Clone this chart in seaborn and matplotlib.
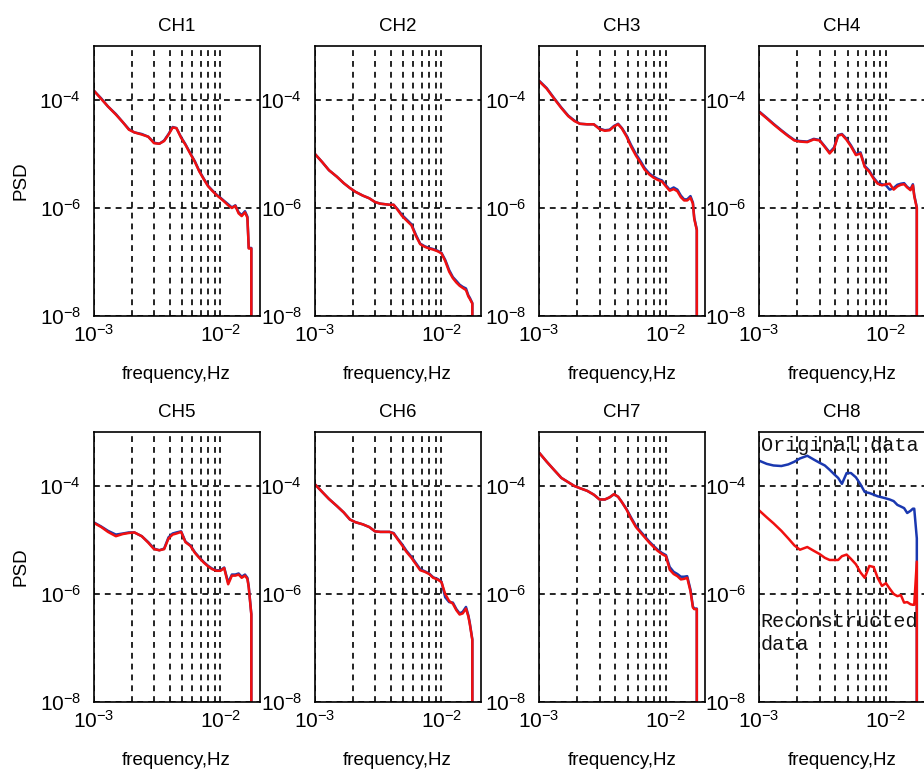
import numpy as np
import pandas as pd
import matplotlib
matplotlib.use("Agg")
import matplotlib.pyplot as plt
import seaborn as sns
from matplotlib.ticker import FixedLocator, NullLocator, NullFormatter, LogFormatterSciNotation

# ---------------- data ----------------
# frequency grid, Hz (last entry repeats: the spectrum drops to zero there)
freq = [1.00e-3, 1.15e-3, 1.3e-3, 1.5e-3, 1.7e-3, 1.9e-3, 2.1e-3, 2.4e-3, 2.7e-3,
        3.0e-3, 3.3e-3, 3.6e-3, 3.9e-3, 4.2e-3, 4.5e-3, 4.9e-3, 5.3e-3, 5.8e-3,
        6.3e-3, 6.8e-3, 7.4e-3, 8.0e-3, 8.6e-3, 9.3e-3, 1.0e-2, 1.07e-2, 1.15e-2,
        1.23e-2, 1.31e-2, 1.39e-2, 1.47e-2, 1.56e-2, 1.63e-2, 1.67e-2, 1.75e-2, 1.75e-2]

# log10(PSD) of reconstructed (red) and original (blue) data, per channel
ch1_red = [-3.82, -3.98, -4.12, -4.27, -4.41, -4.55, -4.60, -4.64, -4.68, -4.80, -4.81, -4.76,
           -4.64, -4.51, -4.52, -4.70, -4.83, -5.00, -5.15, -5.32, -5.47, -5.60, -5.68, -5.76,
           -5.82, -5.88, -5.95, -6.00, -5.96, -6.10, -6.15, -6.08, -6.18, -6.75, -6.75, -10]
ch1_blue = [-3.82, -3.97, -4.12, -4.26, -4.41, -4.54, -4.60, -4.63, -4.68, -4.79, -4.81, -4.75,
            -4.63, -4.50, -4.52, -4.69, -4.82, -4.99, -5.14, -5.31, -5.46, -5.59, -5.67, -5.75,
            -5.81, -5.87, -5.93, -5.99, -5.95, -6.08, -6.13, -6.06, -6.16, -6.74, -6.74, -10]

ch2_red = [-4.99, -5.15, -5.30, -5.42, -5.54, -5.63, -5.70, -5.77, -5.82, -5.89, -5.92, -5.93,
           -5.94, -5.94, -6.03, -6.15, -6.23, -6.32, -6.52, -6.67, -6.72, -6.75, -6.77, -6.80,
           -6.84, -6.98, -7.18, -7.30, -7.38, -7.44, -7.48, -7.52, -7.64, -7.68, -7.77, -10]
ch2_blue = [-4.99, -5.15, -5.30, -5.42, -5.54, -5.63, -5.70, -5.77, -5.82, -5.89, -5.92, -5.93,
            -5.94, -5.94, -6.02, -6.13, -6.21, -6.30, -6.50, -6.66, -6.71, -6.74, -6.76, -6.79,
            -6.83, -6.96, -7.15, -7.28, -7.35, -7.42, -7.46, -7.49, -7.62, -7.66, -7.76, -10]

ch3_red = [-3.65, -3.79, -3.96, -4.15, -4.30, -4.39, -4.44, -4.45, -4.45, -4.54, -4.57, -4.56,
           -4.49, -4.45, -4.53, -4.68, -4.86, -5.03, -5.16, -5.29, -5.38, -5.44, -5.48, -5.51,
           -5.60, -5.68, -5.65, -5.69, -5.80, -5.86, -5.86, -5.81, -5.92, -6.20, -6.41, -10]
ch3_blue = [-3.64, -3.78, -3.95, -4.14, -4.29, -4.38, -4.44, -4.45, -4.45, -4.53, -4.56, -4.55,
            -4.48, -4.44, -4.52, -4.66, -4.83, -5.00, -5.13, -5.26, -5.36, -5.42, -5.46, -5.49,
            -5.58, -5.66, -5.62, -5.66, -5.77, -5.84, -5.84, -5.78, -5.90, -6.18, -6.40, -10]

ch4_red = [-4.22, -4.34, -4.45, -4.57, -4.67, -4.75, -4.77, -4.78, -4.73, -4.75, -4.87, -4.99,
           -4.90, -4.66, -4.64, -4.74, -4.86, -5.02, -4.99, -5.24, -5.33, -5.46, -5.55, -5.58,
           -5.56, -5.55, -5.66, -5.60, -5.57, -5.56, -5.62, -5.67, -5.58, -5.78, -6.00, -10]
ch4_blue = [-4.21, -4.33, -4.44, -4.56, -4.66, -4.74, -4.76, -4.77, -4.72, -4.74, -4.86, -4.97,
            -4.88, -4.65, -4.63, -4.72, -4.84, -5.00, -4.97, -5.22, -5.31, -5.44, -5.53, -5.56,
            -5.58, -5.66, -5.63, -5.57, -5.55, -5.54, -5.61, -5.65, -5.56, -5.76, -5.99, -10]

ch5_red = [-4.68, -4.76, -4.85, -4.93, -4.89, -4.87, -4.86, -4.93, -5.05, -5.17, -5.19, -5.17,
           -4.97, -4.90, -4.88, -4.85, -5.04, -5.11, -5.24, -5.33, -5.42, -5.49, -5.54, -5.57,
           -5.57, -5.52, -5.82, -5.66, -5.66, -5.64, -5.70, -5.66, -5.72, -5.88, -6.38, -10]
ch5_blue = [-4.67, -4.75, -4.83, -4.90, -4.88, -4.86, -4.86, -4.93, -5.04, -5.16, -5.19, -5.16,
            -4.95, -4.88, -4.86, -4.84, -5.03, -5.10, -5.23, -5.32, -5.41, -5.48, -5.53, -5.56,
            -5.56, -5.51, -5.79, -5.64, -5.64, -5.62, -5.68, -5.64, -5.70, -5.86, -6.37, -10]

ch6_red = [-3.96, -4.11, -4.24, -4.37, -4.49, -4.62, -4.67, -4.71, -4.76, -4.84, -4.85, -4.85,
           -4.85, -4.88, -4.98, -5.10, -5.22, -5.33, -5.45, -5.56, -5.59, -5.63, -5.70, -5.73,
           -5.78, -6.00, -6.13, -6.18, -6.30, -6.38, -6.36, -6.27, -6.42, -6.55, -6.85, -10]
ch6_blue = [-3.96, -4.11, -4.24, -4.37, -4.49, -4.62, -4.67, -4.71, -4.76, -4.84, -4.85, -4.85,
            -4.85, -4.87, -4.97, -5.08, -5.20, -5.31, -5.43, -5.54, -5.58, -5.62, -5.69, -5.72,
            -5.77, -6.06, -6.15, -6.16, -6.28, -6.36, -6.33, -6.24, -6.40, -6.53, -6.84, -10]

ch7_red = [-3.38, -3.55, -3.69, -3.85, -3.93, -4.00, -4.04, -4.09, -4.16, -4.25, -4.25, -4.21,
           -4.15, -4.20, -4.30, -4.44, -4.60, -4.76, -4.86, -4.95, -5.05, -5.13, -5.20, -5.26,
           -5.30, -5.55, -5.63, -5.67, -5.73, -5.72, -5.70, -5.95, -6.25, -6.28, -6.28, -10]
ch7_blue = [-3.38, -3.55, -3.69, -3.85, -3.93, -4.00, -4.04, -4.09, -4.16, -4.25, -4.25, -4.21,
            -4.15, -4.20, -4.30, -4.43, -4.58, -4.74, -4.84, -4.93, -5.03, -5.11, -5.18, -5.24,
            -5.28, -5.50, -5.59, -5.63, -5.68, -5.68, -5.67, -5.92, -6.23, -6.27, -6.27, -10]

ch8_red = [-4.45, -4.58, -4.69, -4.83, -4.97, -5.10, -5.18, -5.13, -5.20, -5.26, -5.33, -5.37,
           -5.37, -5.37, -5.30, -5.27, -5.35, -5.45, -5.60, -5.70, -5.48, -5.50, -5.70, -5.85,
           -5.80, -5.90, -6.00, -6.04, -6.02, -6.16, -6.15, -6.19, -6.20, -6.20, -5.40, -10]
ch8_blue = [-3.53, -3.59, -3.62, -3.63, -3.60, -3.55, -3.49, -3.44, -3.51, -3.57, -3.62, -3.70,
            -3.78, -3.85, -3.96, -3.76, -3.76, -3.84, -3.97, -4.11, -4.13, -4.16, -4.19, -4.21,
            -4.23, -4.25, -4.28, -4.35, -4.38, -4.41, -4.50, -4.46, -4.42, -4.42, -4.97, -10]

channels = ["CH1", "CH2", "CH3", "CH4", "CH5", "CH6", "CH7", "CH8"]
red_series = [ch1_red, ch2_red, ch3_red, ch4_red, ch5_red, ch6_red, ch7_red, ch8_red]
blue_series = [ch1_blue, ch2_blue, ch3_blue, ch4_blue, ch5_blue, ch6_blue, ch7_blue, ch8_blue]

x_ticks = [1e-3, 1e-2]
x_minor = [2e-3, 3e-3, 4e-3, 5e-3, 6e-3, 7e-3, 8e-3, 9e-3]
y_ticks = [1e-8, 1e-6, 1e-4]

# ---------------- styling ----------------
sns.set_theme(style="white")
plt.rcParams['font.family'] = ['Liberation Sans', 'DejaVu Sans']
plt.rcParams['mathtext.fontset'] = 'custom'
plt.rcParams['mathtext.rm'] = 'Liberation Sans'
plt.rcParams['mathtext.it'] = 'Liberation Sans'

fig = plt.figure(figsize=(9.24, 7.75), dpi=100)
W, H = 924.0, 775.0
col_left = [93.5, 314.5, 539.0, 759.0]
row_top = [46.0, 432.0]
ax_w, ax_h = 166.0, 270.0

blue_c = "#1a38b0"
red_c = "#f01010"
grid_ls = (0, (3.5, 3.0))

for i, name in enumerate(channels):
    r, c = divmod(i, 4)
    left = col_left[c] / W
    bottom = 1 - (row_top[r] + ax_h) / H
    ax = fig.add_axes([left, bottom, ax_w / W, ax_h / H])
    df = pd.DataFrame({
        "freq": freq + freq,
        "psd": list(10.0 ** np.array(blue_series[i])) + list(10.0 ** np.array(red_series[i])),
        "series": ["Original data"] * len(freq) + ["Reconstructed data"] * len(freq),
    })
    sns.lineplot(data=df, x="freq", y="psd", hue="series",
                 hue_order=["Original data", "Reconstructed data"],
                 palette={"Original data": blue_c, "Reconstructed data": red_c},
                 estimator=None, sort=False, legend=False, linewidth=1.8, ax=ax)
    ax.set_xscale("log")
    ax.set_yscale("log")
    ax.set_xlim(1e-3, 2.03e-2)
    ax.set_ylim(1e-8, 1e-3)
    ax.xaxis.set_major_locator(FixedLocator(x_ticks))
    ax.xaxis.set_minor_locator(FixedLocator(x_minor))
    ax.xaxis.set_minor_formatter(NullFormatter())
    ax.xaxis.set_major_formatter(LogFormatterSciNotation())
    ax.yaxis.set_major_locator(FixedLocator(y_ticks))
    ax.yaxis.set_minor_locator(NullLocator())
    ax.yaxis.set_major_formatter(LogFormatterSciNotation())
    ax.xaxis.grid(True, which="both", color="black", linestyle=grid_ls, linewidth=1.2)
    ax.yaxis.grid(True, which="major", color="black", linestyle=grid_ls, linewidth=1.2)
    ax.set_axisbelow(True)
    for sp in ax.spines.values():
        sp.set_visible(True)
        sp.set_color("black")
        sp.set_linewidth(1.2)
    ax.tick_params(axis="both", which="both", direction="in", length=0,
                   labelsize=15, colors="black", pad=6)
    ax.tick_params(axis="y", pad=9)
    ax.set_title(name, fontsize=13.5, pad=11, color="black")
    ax.set_xlabel("frequency,Hz", fontsize=13.5, labelpad=14, color="black")
    if c == 0:
        ax.set_ylabel("PSD", fontsize=13.5, labelpad=7, color="black")
    else:
        ax.set_ylabel("")
    if name == "CH8":
        ax.text(0.01, 0.985, "Original data", transform=ax.transAxes, ha="left", va="top",
                fontsize=14.5, family=["Liberation Mono", "DejaVu Sans Mono"], color="#111111")
        ax.text(0.01, 0.335, "Reconstructed\ndata", transform=ax.transAxes, ha="left", va="top",
                fontsize=14.5, family=["Liberation Mono", "DejaVu Sans Mono"], color="#111111",
                linespacing=1.3)

fig.savefig("out.png", dpi=100)
